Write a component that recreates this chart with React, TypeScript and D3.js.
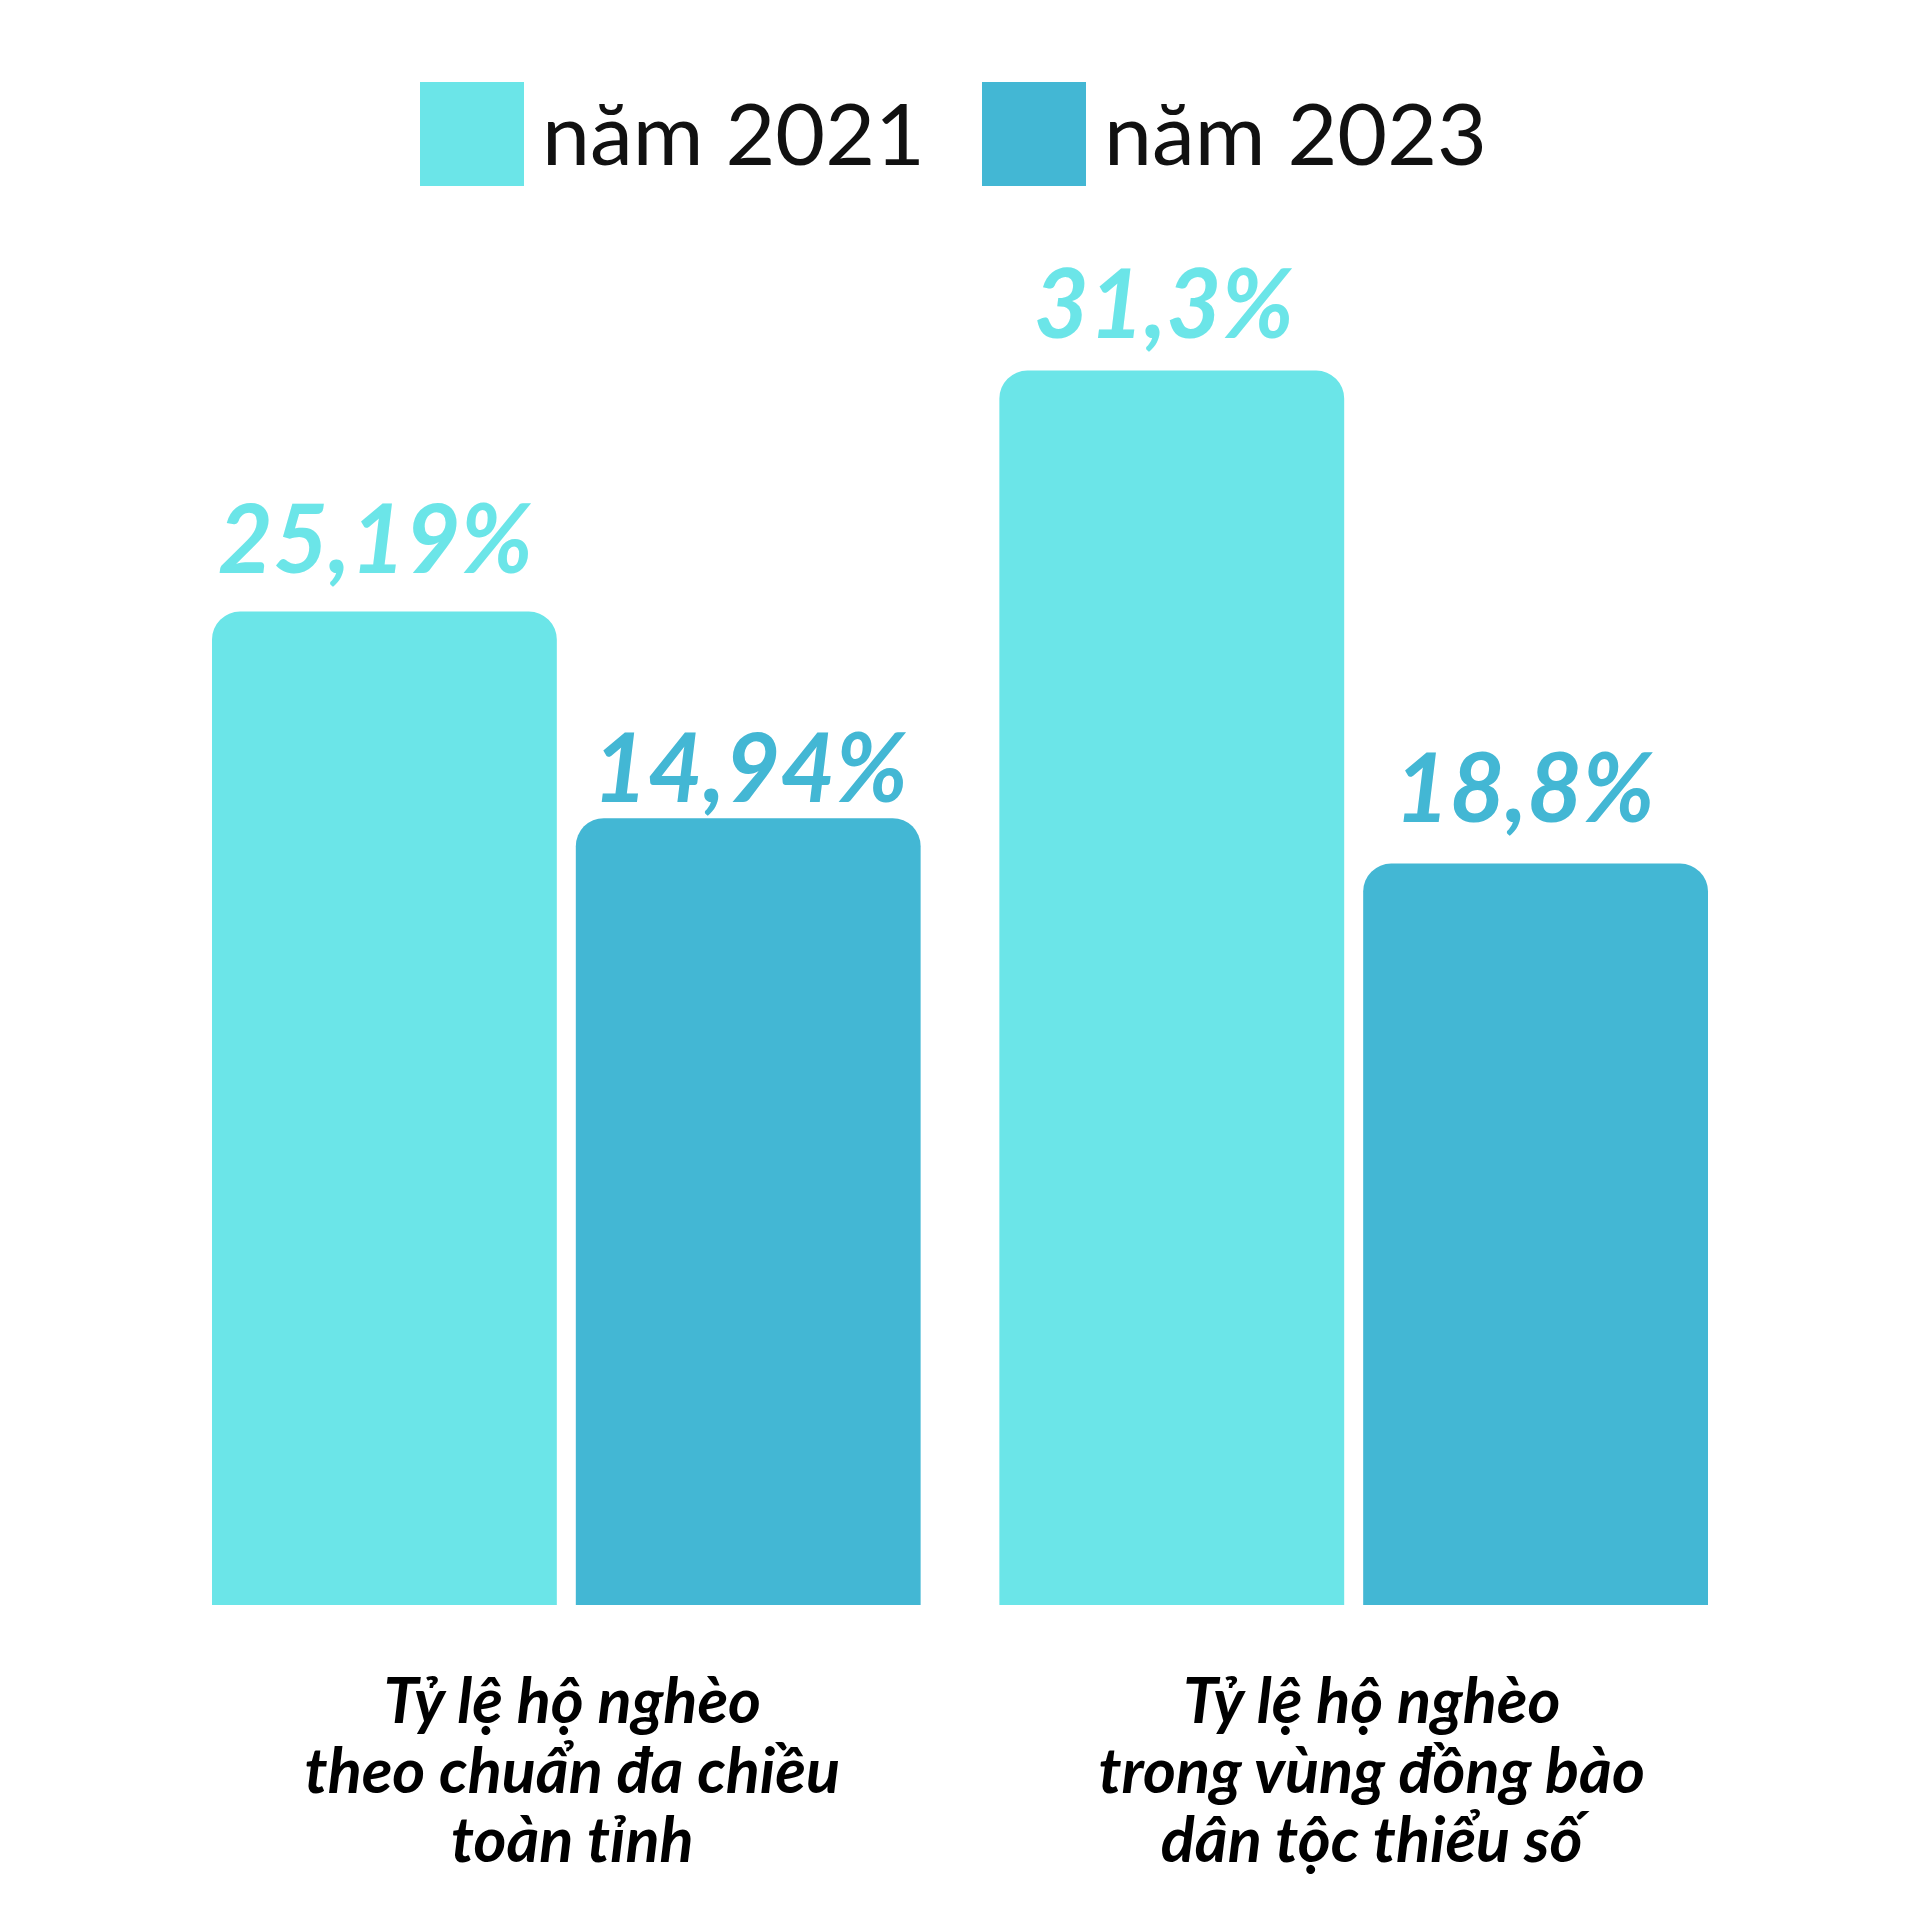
import React from "react";
import * as d3 from "d3";

// ---- data ----
const categories: string[] = ["toan_tinh", "dtts"];
const categoryLabels: string[][] = [
  ["Tỷ lệ hộ nghèo", "theo chuẩn đa chiều", "toàn tỉnh"],
  ["Tỷ lệ hộ nghèo", "trong vùng đồng bào", "dân tộc thiểu số"],
];
const seriesNames: string[] = ["năm 2021", "năm 2023"];
// value labels as printed
const labels2021: string[] = ["25,19%", "31,3%"];
const labels2023: string[] = ["14,94%", "18,8%"];
// bar heights as drawn in the picture (the 14,94% bar is drawn at ~20 units)
const values2021: number[] = [25.19, 31.3];
const values2023: number[] = [19.95, 18.8];

const COLORS = ["#6be5e8", "#43b7d4"];
const W = 1920;
const H = 1920;
const BASE = 1605;

function topRoundedRect(x: number, y: number, w: number, h: number, r: number) {
  const rr = Math.min(r, w / 2, h);
  const p = d3.path();
  p.moveTo(x, y + h);
  p.lineTo(x, y + rr);
  p.arcTo(x, y, x + rr, y, rr);
  p.lineTo(x + w - rr, y);
  p.arcTo(x + w, y, x + w, y + rr, rr);
  p.lineTo(x + w, y + h);
  p.closePath();
  return p.toString();
}

export default function App() {
  const x0 = d3.scaleBand<string>().domain(categories).range([212, 1708]).paddingInner(0.1).paddingOuter(0);
  const x1 = d3.scaleBand<string>().domain(seriesNames).range([0, x0.bandwidth()]).paddingInner(0.0522).paddingOuter(0);
  const y = d3.scaleLinear().domain([0, 40]).range([BASE, BASE - 40 * 39.44]);

  const seriesValues = [values2021, values2023];
  const seriesLabels = [labels2021, labels2023];
  const labelGap = [[39, 33], [16, 42]];
  const labelShift = [[-9, -8], [2, -11]];
  const catShift = [6, 18];

  const font = "Lato, 'Open Sans', sans-serif";

  return (
    <svg width={W} height={H} style={{ position: "absolute", left: 0, top: 0, background: "#fff" }}>
      <rect x={0} y={0} width={W} height={H} fill="#fff" />
      {/* legend */}
      {seriesNames.map((s, i) => {
        const lx = [420, 982][i];
        return (
          <g key={s}>
            <rect x={lx} y={82} width={104} height={104} fill={COLORS[i]} />
            <text x={lx + 122} y={165} fontFamily={font} fontSize={86} fill="#111">
              {s}
            </text>
          </g>
        );
      })}
      {/* bars */}
      {categories.map((c, ci) => (
        <g key={c} transform={`translate(${x0(c)},0)`}>
          {seriesNames.map((s, si) => {
            const v = seriesValues[si][ci];
            const bx = x1(s)!;
            const bw = x1.bandwidth();
            const top = y(v);
            return (
              <g key={s}>
                <path d={topRoundedRect(bx, top, bw, BASE - top, 28)} fill={COLORS[si]} />
                <text
                  x={bx + bw / 2 + labelShift[si][ci]}
                  y={top - labelGap[si][ci]}
                  textAnchor="middle"
                  fontFamily={font}
                  fontWeight={700}
                  fontStyle="italic"
                  fontSize={95}
                  fill={COLORS[si]}
                >
                  {seriesLabels[si][ci]}
                </text>
              </g>
            );
          })}
          <text
            textAnchor="middle"
            fontFamily={font}
            fontWeight={700}
            fontStyle="italic"
            fontSize={63}
            fill="#000"
          >
            {categoryLabels[ci].map((line, li) => (
              <tspan key={li} x={x0.bandwidth() / 2 + catShift[ci]} y={1723 + li * 69.5}>
                {line}
              </tspan>
            ))}
          </text>
        </g>
      ))}
    </svg>
  );
}
